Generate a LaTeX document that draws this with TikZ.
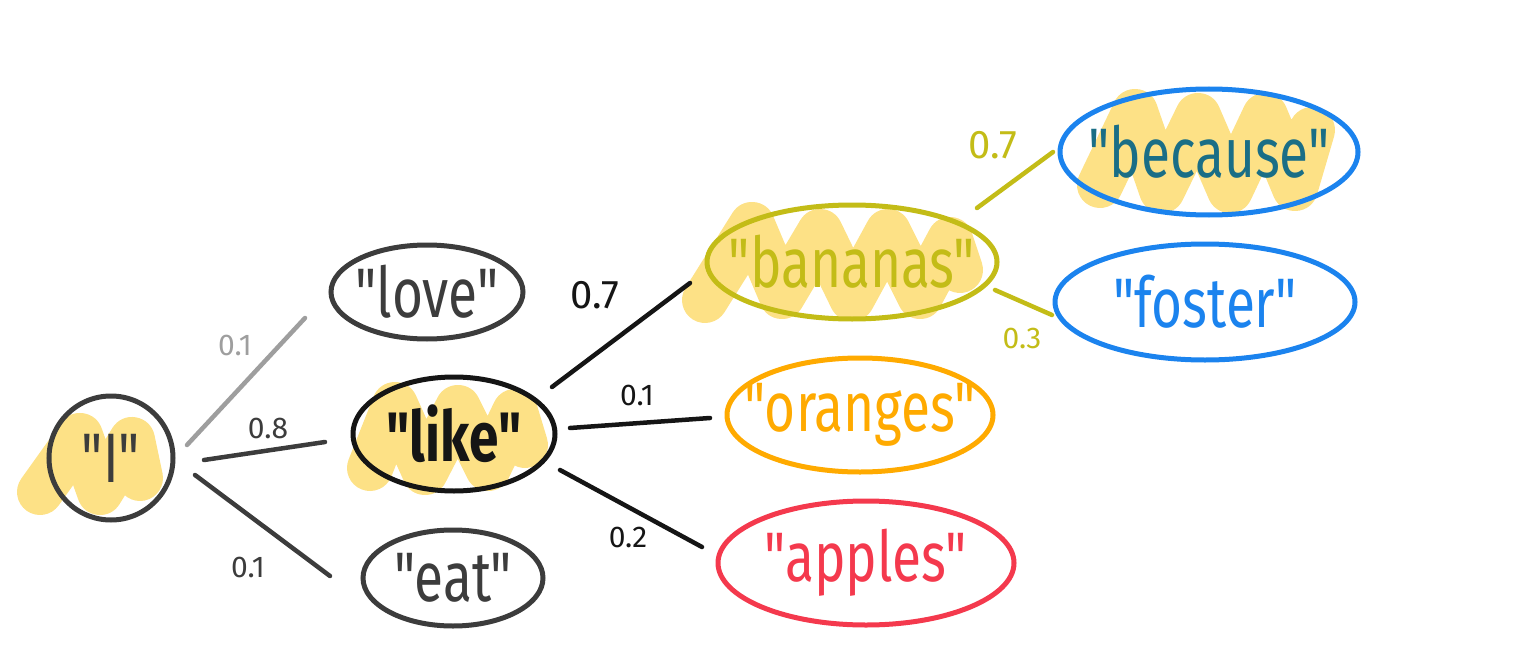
\documentclass[tikz,border=0pt]{standalone}
\usepackage{fontspec}
\setmainfont{Fira Sans}[Ligatures=TeXOff]
\usetikzlibrary{shapes.geometric,calc}
\definecolor{dgray}{HTML}{3C3C3C}
\definecolor{lgray}{HTML}{9E9E9E}
\definecolor{ink}{HTML}{151515}
\definecolor{olive}{HTML}{C3BC17}
\definecolor{orng}{HTML}{FFAA00}
\definecolor{redc}{HTML}{F4394D}
\definecolor{bluec}{HTML}{1B83EE}
\definecolor{teal}{HTML}{1A6E86}
\definecolor{hly}{HTML}{FCD34D}
\newcommand\hw[1]{\scalebox{0.76}[1]{#1}}
\tikzset{
  word/.style={ellipse, line width=5pt, inner sep=0pt},
  wtext/.style={font=\fontsize{70}{72}\selectfont, inner sep=0pt},
  hl/.style={draw=hly, line width=46pt, line join=round, line cap=round, opacity=0.68},
  edge/.style={line width=4.5pt, line cap=round},
  lab/.style={font=\fontsize{30}{32}\selectfont, inner sep=0pt},
  biglab/.style={font=\fontsize{40}{42}\selectfont, inner sep=0pt},
}
\begin{document}
\begin{tikzpicture}[x=1pt,y=-1pt]
\useasboundingbox (0,0) rectangle (1536,658);
% highlights
\draw[hl] (40,492) -- (80,436) -- (100,492) -- (132,440) -- (140,478);
\draw[hl] (370,468) -- (395,405) -- (425,472) -- (458,408) -- (488,468) -- (515,412) -- (525,445);
\draw[hl] (705,300) -- (752,225) -- (782,296) -- (820,232) -- (852,298) -- (888,232) -- (920,296) -- (950,240) -- (960,270);
\draw[hl] (1100,185) -- (1135,112) -- (1162,190) -- (1198,116) -- (1230,190) -- (1265,116) -- (1295,188) -- (1312,130);
% nodes
\node[word, draw=dgray, minimum width=124pt, minimum height=124pt,
  label={[wtext, text=dgray]center:\hw{"I"}}] (I) at (111,458) {};
\node[word, draw=dgray, minimum width=192pt, minimum height=94pt,
  label={[wtext, text=dgray]center:\hw{"love"}}] (love) at (427,292) {};
\node[word, draw=ink, minimum width=202pt, minimum height=114pt,
  label={[wtext, text=ink, font=\fontsize{70}{72}\bfseries]center:\hw{"like"}}] (like) at (454,434) {};
\node[word, draw=dgray, minimum width=180pt, minimum height=96pt,
  label={[wtext, text=dgray]center:\hw{"eat"}}] (eat) at (453,578) {};
\node[word, draw=olive, minimum width=290pt, minimum height=114pt,
  label={[wtext, text=olive]center:\hw{"bananas"}}] (bananas) at (852,262) {};
\node[word, draw=orng, minimum width=266pt, minimum height=114pt,
  label={[wtext, text=orng]center:\hw{"oranges"}}] (oranges) at (860,415) {};
\node[word, draw=redc, minimum width=296pt, minimum height=124pt,
  label={[wtext, text=redc]center:\hw{"apples"}}] (apples) at (866,563) {};
\node[word, draw=bluec, minimum width=298pt, minimum height=126pt,
  label={[wtext, text=teal]center:\hw{"because"}}] (because) at (1209,152) {};
\node[word, draw=bluec, minimum width=300pt, minimum height=116pt,
  label={[wtext, text=bluec]center:\hw{"foster"}}] (foster) at (1205,302) {};
% edges
\draw[edge, lgray] ($(I)+(76,-13)$) -- ($(love)+(-122,26)$);
\draw[edge, dgray] ($(I)+(93,2)$) -- ($(like)+(-129,8)$);
\draw[edge, dgray] ($(I)+(84,17)$) -- ($(eat)+(-123,-2)$);
\draw[edge, ink] ($(like)+(98,-47)$) -- ($(bananas)+(-162,21)$);
\draw[edge, ink] ($(like)+(116,-6)$) -- ($(oranges)+(-150,3)$);
\draw[edge, ink] ($(like)+(106,36)$) -- ($(apples)+(-164,-16)$);
\draw[edge, olive] ($(bananas)+(125,-54)$) -- ($(because)+(-156,0)$);
\draw[edge, olive] ($(bananas)+(143,28)$) -- ($(foster)+(-153,13)$);
% edge labels
\node[lab, text=lgray] (p1) at (235,345) {0.1};
\node[lab, text=dgray] (p2) at (268,428) {0.8};
\node[lab, text=dgray] (p3) at (248,567) {0.1};
\node[biglab, text=ink] (p4) at (595,295) {0.7};
\node[lab, text=ink] (p5) at (637,395) {0.1};
\node[lab, text=ink] (p6) at (628,537) {0.2};
\node[biglab, text=olive] (p7) at (993,145) {0.7};
\node[lab, text=olive] (p8) at (1022,338) {0.3};
\end{tikzpicture}
\end{document}
